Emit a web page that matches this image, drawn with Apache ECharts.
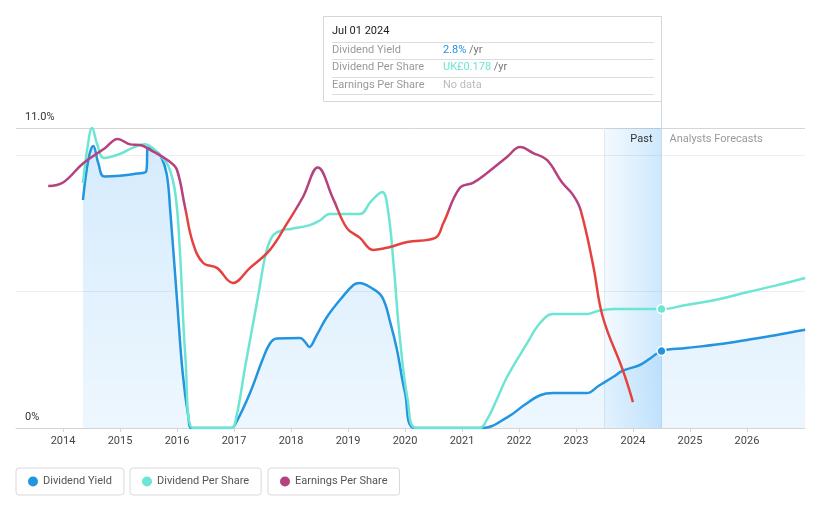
<!DOCTYPE html>
<html>
<head>
<meta charset="utf-8">
<script src="https://cdn.jsdelivr.net/npm/echarts@6.0.0/dist/echarts.min.js"></script>
<style>
  html, body { margin: 0; padding: 0; background: #fff; }
  #c { width: 821px; height: 508px; }
</style>
</head>
<body>
<div id="c"></div>
<script>
// ---------- data ----------
const yearTicks = [2014, 2015, 2016, 2017, 2018, 2019, 2020, 2021, 2022, 2023, 2024, 2025, 2026];
const seriesNames = ['Dividend Yield', 'Dividend Per Share', 'Earnings Per Share'];

// [decimal year, value in %]
const dividendYield = [
  [2014.35, 8.36], [2014.45, 9.9], [2014.53, 10.34], [2014.62, 9.7], [2014.72, 9.22],
  [2015.0, 9.25], [2015.3, 9.33], [2015.46, 9.42], [2015.49, 10.28], [2015.6, 10.2],
  [2015.72, 9.95], [2015.82, 9.3], [2015.88, 8.0], [2016.0, 4.7], [2016.1, 2.0],
  [2016.2, 0.4], [2016.26, 0], [2016.95, 0], [2017.05, 0.25], [2017.28, 1.28], [2017.5, 2.5],
  [2017.63, 3.1], [2017.75, 3.28], [2018.16, 3.3], [2018.25, 3.15], [2018.32, 2.97],
  [2018.45, 3.4], [2018.63, 4.07], [2018.9, 4.8], [2019.1, 5.25], [2019.2, 5.32],
  [2019.4, 5.15], [2019.6, 4.8], [2019.75, 3.8], [2019.86, 2.86], [2020.0, 1.3],
  [2020.18, 0], [2021.35, 0], [2021.8, 0.4], [2022.1, 0.85], [2022.37, 1.2],
  [2022.6, 1.28], [2023.19, 1.28], [2023.4, 1.55], [2023.65, 1.87], [2023.82, 2.1],
  [2024.12, 2.31], [2024.3, 2.55], [2024.5, 2.82], [2024.93, 2.93], [2025.5, 3.07],
  [2026.0, 3.23], [2026.5, 3.4], [2027.02, 3.6]
];
const dividendPerShare = [
  [2014.35, 8.98], [2014.43, 10.3], [2014.51, 11.0], [2014.6, 10.4], [2014.72, 9.9],
  [2015.0, 10.05], [2015.25, 10.3], [2015.44, 10.4], [2015.55, 10.3], [2015.7, 10.0],
  [2015.85, 9.6], [2015.97, 8.6], [2016.05, 6.5], [2016.15, 2.5], [2016.28, 0],
  [2016.95, 0], [2017.04, 0.4], [2017.2, 2.3], [2017.42, 4.8], [2017.56, 6.4], [2017.68, 7.05],
  [2017.85, 7.25], [2018.0, 7.3], [2018.33, 7.44], [2018.5, 7.6], [2018.68, 7.85], [2019.21, 7.85],
  [2019.4, 8.3], [2019.6, 8.65], [2019.7, 8.0], [2019.8, 6.0], [2019.9, 3.5],
  [2020.05, 1.0], [2020.21, 0], [2021.3, 0], [2021.45, 0.35], [2021.6, 1.0], [2021.79, 1.87],
  [2022.14, 3.1], [2022.37, 3.85], [2022.6, 4.18], [2023.19, 4.18], [2023.4, 4.3],
  [2023.65, 4.36], [2024.5, 4.36], [2024.93, 4.51], [2025.5, 4.72], [2026.0, 4.98],
  [2026.5, 5.22], [2027.02, 5.5]
];
const earningsPerShare = [
  [2013.74, 8.87], [2014.0, 9.0], [2014.35, 9.7], [2014.74, 10.27], [2014.96, 10.6],
  [2015.18, 10.4], [2015.35, 10.38], [2015.53, 10.2], [2015.88, 9.75], [2016.0, 9.46],
  [2016.14, 8.1], [2016.28, 6.78], [2016.46, 6.05], [2016.7, 5.87], [2016.98, 5.32],
  [2017.28, 5.87], [2017.63, 6.53], [2017.93, 7.5], [2018.21, 8.47], [2018.47, 9.55],
  [2018.74, 8.4], [2018.98, 7.33], [2019.21, 6.97], [2019.44, 6.53], [2019.74, 6.64],
  [2020.04, 6.82], [2020.53, 6.97], [2020.67, 7.5], [2020.96, 8.8], [2021.2, 9.0],
  [2021.44, 9.35], [2021.79, 9.94], [2022.02, 10.3], [2022.25, 10.08], [2022.49, 9.83],
  [2022.75, 9.02], [2022.95, 8.54], [2023.08, 8.0], [2023.3, 5.98], [2023.47, 4.07],
  [2023.82, 2.13], [2024.0, 0.95]
];
const epsThreshold = 8.0;
const pastStart = 2023.5;
const pastEnd = 2024.5;
const xMin = 2013.175;
const xMax = 2027.018;
const yMax = 11;
const tipDate = 'Jul 01 2024';
const tipDps = 'UK£0.178';

// ---------- style ----------
const BLUE = '#2394df';
const TEAL = '#6ce5d4';
const MAGENTA = '#b6417f';
const RED = '#e5423f';
const FONT = 'Roboto, "Noto Sans", sans-serif';
const FS = 11;

function withMarker(arr, color) {
  return arr.map(p => p[0] === pastEnd ? {
    value: p, symbol: 'circle', symbolSize: 9,
    itemStyle: { color: color, borderColor: '#fff', borderWidth: 1.5 }
  } : p);
}

const chart = echarts.init(document.getElementById('c'), null, { renderer: 'canvas' });

const legendCommon = {
  orient: 'horizontal', top: 468, icon: 'circle', itemWidth: 10, itemHeight: 10,
  padding: [7, 12, 7, 12], borderColor: '#d9d9d9', borderWidth: 1, borderRadius: 3,
  selectedMode: false,
  textStyle: { color: '#555', fontSize: FS, fontFamily: FONT, lineHeight: 13 }
};

const yieldAtEnd = dividendYield.find(p => p[0] === pastEnd)[1];
const SMOOTH = 0.4;

const option = {
  animation: false,
  grid: { left: 16, right: 16, top: 128, bottom: 80 },
  legend: [
    Object.assign({ left: 16, data: [{ name: seriesNames[0], itemStyle: { color: BLUE } }] }, legendCommon),
    Object.assign({ left: 130, data: [{ name: seriesNames[1], itemStyle: { color: TEAL } }] }, legendCommon),
    Object.assign({ left: 268, data: [{ name: seriesNames[2], itemStyle: { color: MAGENTA } }] }, legendCommon)
  ],
  xAxis: {
    type: 'value', min: xMin, max: xMax,
    axisLine: { lineStyle: { color: '#d4d4d4', width: 1 } },
    axisTick: { show: true, customValues: yearTicks, length: 4, lineStyle: { color: '#d4d4d4' } },
    axisLabel: { customValues: yearTicks, formatter: v => String(Math.round(v)), color: '#444', fontSize: FS, fontFamily: FONT, margin: 8 },
    splitLine: { show: false }
  },
  yAxis: {
    type: 'value', min: 0, max: yMax, interval: 5,
    axisLine: { show: false }, axisTick: { show: false },
    splitLine: { lineStyle: { color: ['#eeeeee', '#eeeeee', '#eeeeee', '#d6d6d6'] } },
    axisLabel: {
      inside: true, margin: 9, verticalAlign: 'bottom', padding: [0, 0, 5, 0],
      color: '#333', fontSize: FS, fontFamily: FONT, showMinLabel: true, showMaxLabel: true,
      formatter: v => v === yMax ? yMax.toFixed(1) + '%' : (v === 0 ? '0%' : '')
    }
  },
  series: [
    {
      name: seriesNames[0], type: 'line', data: withMarker(dividendYield, BLUE),
      symbol: 'none', showSymbol: true, smooth: SMOOTH,
      lineStyle: { color: BLUE, width: 2.5 }, itemStyle: { color: BLUE },
      areaStyle: {
        color: new echarts.graphic.LinearGradient(0, 0, 0, 1, [
          { offset: 0, color: 'rgba(33,150,243,0.27)' },
          { offset: 1, color: 'rgba(33,150,243,0.11)' }
        ])
      },
      z: 2,
      markArea: {
        silent: true, z: 1,
        data: [
          [{
            xAxis: pastStart,
            itemStyle: {
              color: new echarts.graphic.LinearGradient(0, 0, 1, 0, [
                { offset: 0, color: 'rgba(33,150,243,0.05)' },
                { offset: 1, color: 'rgba(33,150,243,0.22)' }
              ])
            },
            label: { show: true, position: 'insideTopRight', distance: 6, offset: [-3, 0], formatter: 'Past', color: '#333', fontSize: FS, fontFamily: FONT }
          }, { xAxis: pastEnd }],
          [{
            xAxis: pastEnd,
            itemStyle: { color: 'rgba(0,0,0,0)' },
            label: { show: true, position: 'insideTopLeft', distance: 6, offset: [2, 0], formatter: 'Analysts Forecasts', color: '#999', fontSize: FS, fontFamily: FONT }
          }, { xAxis: xMax }]
        ]
      },
      markLine: {
        silent: true, symbol: 'none', label: { show: false }, z: 1,
        data: [
          { xAxis: pastStart, lineStyle: { color: '#dbe9f5', width: 1, type: 'solid' } },
          { xAxis: pastEnd, lineStyle: { color: '#c3dcf2', width: 1, type: 'solid' } }
        ]
      }
    },
    {
      name: seriesNames[1], type: 'line', data: withMarker(dividendPerShare, TEAL),
      symbol: 'none', showSymbol: true, smooth: SMOOTH,
      lineStyle: { color: TEAL, width: 2.5 }, itemStyle: { color: TEAL }, z: 3
    },
    {
      name: seriesNames[2], type: 'line', data: earningsPerShare,
      symbol: 'none', smooth: SMOOTH,
      lineStyle: { color: MAGENTA, width: 2.5 }, itemStyle: { color: MAGENTA }, z: 4
    }
  ]
};
chart.setOption(option);

// EPS colour: magenta above threshold, red below (pixel-space gradient from axis scale)
const yTopPix = chart.convertToPixel({ gridIndex: 0 }, [xMin, yMax])[1];
const yBotPix = chart.convertToPixel({ gridIndex: 0 }, [xMin, 0])[1];
const yThrPix = chart.convertToPixel({ gridIndex: 0 }, [xMin, epsThreshold])[1];
const tStop = (yThrPix - yTopPix) / (yBotPix - yTopPix);
chart.setOption({
  series: [{}, {}, {
    lineStyle: {
      color: new echarts.graphic.LinearGradient(0, yTopPix, 0, yBotPix, [
        { offset: 0, color: MAGENTA }, { offset: tStop, color: MAGENTA },
        { offset: tStop, color: RED }, { offset: 1, color: RED }
      ], true)
    }
  }]
});

// tooltip-like info box (static)
const xEnd = chart.convertToPixel({ gridIndex: 0 }, [pastEnd, 0])[0];
const boxRight = Math.round(xEnd) + 0.5;
const boxLeft = 323.5, boxTop = 16.5, boxBottom = 101.5;
const sepYs = [42, 59, 77, 94];
const rowLabels = ['Dividend Yield', 'Dividend Per Share', 'Earnings Per Share'];
const rowYs = [50, 67.5, 85.5];
const g = [
  { type: 'line', shape: { x1: boxRight, y1: boxBottom, x2: boxRight, y2: yTopPix }, style: { stroke: '#c3dcf2', lineWidth: 1 }, z: 10 },
  { type: 'rect', shape: { x: boxLeft, y: boxTop, width: boxRight - boxLeft, height: boxBottom - boxTop }, style: { fill: '#fff', stroke: '#d6d6d6', lineWidth: 1 }, z: 10 },
  { type: 'text', x: 332, y: 31, style: { text: tipDate, fill: '#222', font: FS + 'px ' + FONT, verticalAlign: 'middle' }, z: 11 }
];
sepYs.forEach(y => g.push({ type: 'line', shape: { x1: 332, y1: y + 0.5, x2: 654, y2: y + 0.5 }, style: { stroke: '#dddddd', lineWidth: 1 }, z: 11 }));
rowLabels.forEach((t, i) => g.push({ type: 'text', x: 332, y: rowYs[i], style: { text: t, fill: '#9a9a9a', font: FS + 'px ' + FONT, verticalAlign: 'middle' }, z: 11 }));
const richBase = { fontSize: FS, fontFamily: FONT };
g.push({ type: 'text', x: 443, y: rowYs[0], style: { text: '{a|' + yieldAtEnd.toFixed(1) + '%}{b| /yr}', verticalAlign: 'middle', rich: { a: Object.assign({ fill: BLUE }, richBase), b: Object.assign({ fill: '#777' }, richBase) } }, z: 11 });
g.push({ type: 'text', x: 443, y: rowYs[1], style: { text: '{a|' + tipDps + '}{b| /yr}', verticalAlign: 'middle', rich: { a: Object.assign({ fill: TEAL }, richBase), b: Object.assign({ fill: '#777' }, richBase) } }, z: 11 });
g.push({ type: 'text', x: 443, y: rowYs[2], style: { text: 'No data', fill: '#bbbbbb', font: FS + 'px ' + FONT, verticalAlign: 'middle' }, z: 11 });
chart.setOption({ graphic: g });
</script>
</body>
</html>
